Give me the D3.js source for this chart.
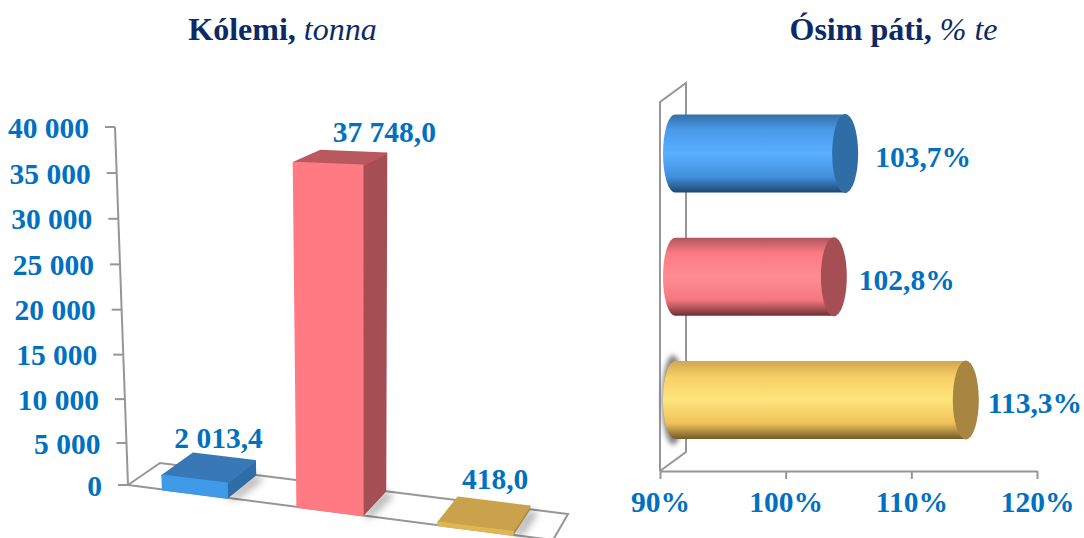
<!DOCTYPE html>
<html><head><meta charset="utf-8">
<script src="https://cdn.jsdelivr.net/npm/d3@7"></script>
<style>html,body{margin:0;padding:0;background:#fff}svg{display:block}text{font-family:"Liberation Serif",serif}</style>
</head><body><svg id="c" width="1084" height="538"></svg>
<script>
const categories = ["A", "B", "C"];
const volumeValues = [2013.4, 37748.0, 418.0];
const volumeLabels = ["2 013,4", "37 748,0", "418,0"];
const growthValues = [103.7, 102.8, 113.3];
const growthLabels = ["103,7%", "102,8%", "113,3%"];
const volumeTicks = [0, 5000, 10000, 15000, 20000, 25000, 30000, 35000, 40000];
const volumeTickLabels = ["0", "5 000", "10 000", "15 000", "20 000", "25 000", "30 000", "35 000", "40 000"];
const growthTicks = [90, 100, 110, 120];
const growthTickLabels = ["90%", "100%", "110%", "120%"];

const palette = {
  front: ["#3f9ae8", "#ff7a82", "#dfb653"],
  top: ["#3878b6", "#b9585f", "#c9a24b"],
  side: ["#2f6da6", "#a54f55", "#a8853f"],
  stops: [
    ["#356fa8", "#4a9bea", "#58b0ff", "#4290dc", "#1c4872"],
    ["#b0565c", "#fb7b83", "#ff8c94", "#f5777e", "#6a3034"],
    ["#d0a84e", "#f7cf66", "#ffe47c", "#eec15a", "#735a2a"]
  ]
};
const BLUE = "#0070c0", NAVY = "#0b2a66", GREY = "#969696", FS = 29.5, LW = 2;

const svg = d3.select("#c");
const defs = svg.append("defs");
defs.append("filter").attr("id", "soft").attr("x", "-50%").attr("y", "-50%").attr("width", "200%").attr("height", "200%")
  .append("feGaussianBlur").attr("stdDeviation", 4);
defs.append("filter").attr("id", "glow").attr("x", "-200%").attr("y", "-50%").attr("width", "500%").attr("height", "200%")
  .append("feGaussianBlur").attr("stdDeviation", 2.5);
defs.append("filter").attr("id", "edge").append("feGaussianBlur").attr("stdDeviation", 0.5);
palette.stops.forEach((s, i) => {
  const g = defs.append("linearGradient").attr("id", "cyl" + i).attr("x1", 0).attr("x2", 0).attr("y1", 0).attr("y2", 1);
  [0, .2, .5, .8, 1].forEach((o, j) => g.append("stop").attr("offset", o).attr("stop-color", s[j]));
});

/* titles */
function title(cx, bold, ital) {
  const t = svg.append("text").attr("x", cx).attr("y", 39.5).attr("text-anchor", "middle").attr("font-size", 32).attr("fill", NAVY);
  t.append("tspan").attr("font-weight", "bold").text(bold);
  t.append("tspan").attr("font-style", "italic").text(ital);
}
title(282.5, "Kólemi, ", "tonna");
title(893.5, "Ósim páti, ", "% te");

/* ---------- left chart: 3D columns ---------- */
const floorX = d3.scaleLinear().domain([0, 1, 2, 3]).range([128, 262, 398, 553]);
const floorY = d3.scaleLinear().domain([128, 553]).range([485, 540]);
const depthDx = d3.scaleLinear().domain([128, 553]).range([32, 15]);
const depthDy = d3.scaleLinear().domain([128, 553]).range([22, 26]);
const axisY = d3.scalePow().exponent(1.03).domain([0, 40000]).range([485, 127]);
const barH = d3.scalePow().exponent(1.08).domain([0, 37748]).range([0, 347]);

// u along the floor, v into depth, h the height above the floor
function proj(u, v, h) {
  const xf = floorX(u);
  const x = xf + v * depthDx(xf);
  const y = floorY(xf) - v * depthDy(xf);
  const lean = (x - 366) * 0.0546 * h / 358;
  const scale = (1 + 0.00025 * (x - 330)) * (1 - 0.04 * v);
  return [x + lean, y - h * scale];
}
const poly = pts => "M" + pts.map(p => p.join(",")).join("L") + "Z";

const left = svg.append("g");
left.append("path").attr("fill", "none").attr("stroke", GREY).attr("stroke-width", LW)
  .attr("d", "M" + [proj(0, 0, 0), proj(0, 1, 0), proj(3, 1, 0), proj(3, 0, 0), proj(0, 0, 0)].map(p => p.join(",")).join("L"));

const ax = left.append("g").attr("transform", "translate(128,0)")
  .call(d3.axisLeft(axisY).tickValues(volumeTicks).tickSize(10).tickPadding(16).tickFormat((d, i) => volumeTickLabels[i]));
ax.select(".domain").remove();
const leanX = d => -13 * (485 - axisY(d)) / 358;
ax.selectAll(".tick").attr("transform", d => `translate(${leanX(d)},${axisY(d)})`);
ax.selectAll(".tick line").attr("stroke", GREY).attr("stroke-width", LW);
ax.selectAll(".tick text").attr("fill", BLUE).attr("font-size", FS).attr("font-weight", "bold")
  .attr("font-family", '"Liberation Serif",serif').attr("dy", ".36em");
left.append("line").attr("x1", 128).attr("y1", axisY(0)).attr("x2", 128 + leanX(40000)).attr("y2", axisY(40000))
  .attr("stroke", GREY).attr("stroke-width", LW);

const gap = 0.26;
const bars = left.selectAll(".bar").data(volumeValues).join("g").attr("class", "bar");
bars.each(function (val, i) {
  const g = d3.select(this), h = barH(val), a = i + gap, b = i + 1 - gap;
  g.append("path").attr("filter", "url(#soft)").attr("fill", "#000").attr("opacity", .35)
    .attr("d", poly([proj(b, 0, 0), proj(b, 1, 0), (p => [p[0] + 8, p[1] + 4])(proj(b, 1, 0)), (p => [p[0] + 8, p[1] + 2])(proj(b, 0, 0))]));
  const faces = [
    ["side", [proj(b, 0, 0), proj(b, 1, 0), proj(b, 1, h), proj(b, 0, h)]],
    ["top", [proj(a, 0, h), proj(b, 0, h), proj(b, 1, h), proj(a, 1, h)]],
    ["front", [proj(a, 0, 0), proj(b, 0, 0), proj(b, 0, h), proj(a, 0, h)]]
  ];
  faces.forEach(([k, pts]) => g.append("path").attr("d", poly(pts)).attr("fill", palette[k][i])
    .attr("stroke", palette[k][i]).attr("stroke-width", 2).attr("stroke-linejoin", "round"));
});

const volNudge = [[-5.5, -6], [31, -9], [1.5, -8.5]];
left.selectAll(".vlab").data(volumeValues).join("text").attr("class", "vlab")
  .attr("text-anchor", "middle").attr("font-size", FS).attr("font-weight", "bold").attr("fill", BLUE)
  .attr("x", (d, i) => (proj(i + gap, 1, barH(d))[0] + proj(i + 1 - gap, 1, barH(d))[0]) / 2 + volNudge[i][0])
  .attr("y", (d, i) => proj(i + gap, 1, barH(d))[1] + volNudge[i][1])
  .text((d, i) => volumeLabels[i]);

/* ---------- right chart: horizontal cylinders ---------- */
const x = d3.scaleLinear().domain([90, 120]).range([660, 1037]);
const y = d3.scalePoint().domain(categories).range([153.5, 400]);
const right = svg.append("g");
const wallDx = 26, wallDy = 19, wallTop = 102, wallBot = 471;
right.append("path").attr("fill", "none").attr("stroke", GREY).attr("stroke-width", LW)
  .attr("d", `M${x(90)},${wallBot}L${x(90)},${wallTop}L${x(90) + wallDx},${wallTop - wallDy}L${x(90) + wallDx},${wallBot - wallDy}L${x(90)},${wallBot}`);

const bx = right.append("g").attr("transform", `translate(0,${wallBot})`)
  .call(d3.axisBottom(x).tickValues(growthTicks).tickSize(8).tickPadding(12).tickSizeOuter(0).tickFormat((d, i) => growthTickLabels[i]));
bx.select(".domain").attr("stroke", GREY).attr("stroke-width", LW);
bx.selectAll(".tick line").attr("stroke", GREY).attr("stroke-width", LW);
bx.selectAll(".tick text").attr("fill", BLUE).attr("font-size", FS).attr("font-weight", "bold")
  .attr("font-family", '"Liberation Serif",serif');

const capOffset = 13, capRx = 13, ry = 39, baseOffset = 15, baseRx = 12;
// grey glow behind the third bar's base
right.append("ellipse").attr("cx", x(90) + 13).attr("cy", y("C")).attr("rx", 11).attr("ry", ry + 6)
  .attr("fill", "#666").attr("opacity", .8).attr("filter", "url(#glow)");

const cyl = right.selectAll(".cyl").data(growthValues).join("g").attr("class", "cyl");
cyl.each(function (v, i) {
  const g = d3.select(this), cy = y(categories[i]), xe = x(v) + capOffset, x0 = x(90) + baseOffset;
  const t = cy - ry, b = cy + ry;
  g.append("path").attr("fill", `url(#cyl${i})`).attr("filter", "url(#edge)")
    .attr("d", `M${x0},${t}L${xe + 2},${t}L${xe + 2},${b}L${x0},${b}A${baseRx},${ry} 0 0 1 ${x0},${t}Z`);
  g.append("ellipse").attr("cx", xe).attr("cy", cy).attr("rx", capRx).attr("ry", ry + .5)
    .attr("fill", palette.side[i]).attr("filter", "url(#edge)");
});

const growNudge = [17, 12, 9];
right.selectAll(".glab").data(growthValues).join("text").attr("class", "glab")
  .attr("font-size", FS).attr("font-weight", "bold").attr("fill", BLUE)
  .attr("x", (d, i) => x(d) + capOffset + capRx + growNudge[i])
  .attr("y", (d, i) => y(categories[i]) + 13)
  .text((d, i) => growthLabels[i]);
</script></body></html>
